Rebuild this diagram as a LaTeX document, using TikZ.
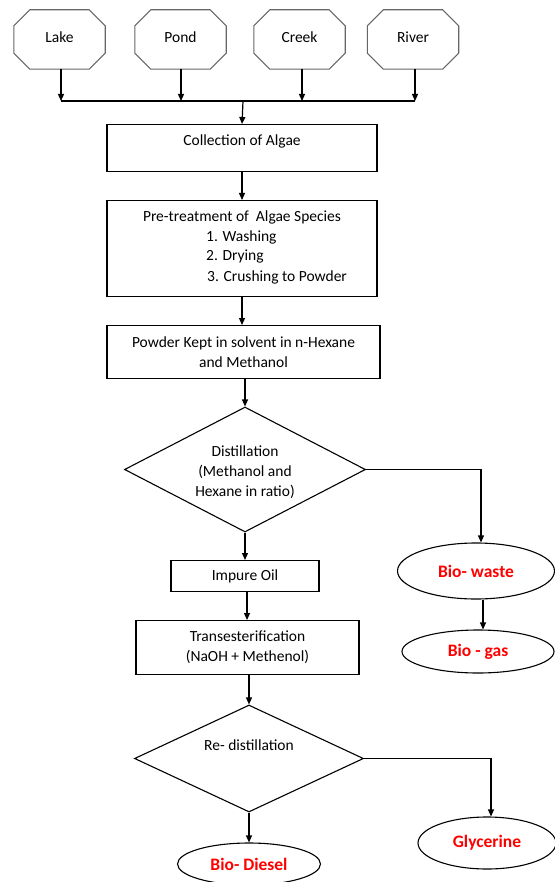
\documentclass[tikz,border=0pt]{standalone}
\usepackage{fontspec}
\setmainfont{Carlito}
\usetikzlibrary{shapes.geometric,arrows.meta,calc}
\definecolor{outred}{RGB}{255,0,0}
\tikzset{
  txt/.style={font=\fontsize{15.5}{20}\selectfont, inner sep=0pt, align=center},
  srcbox/.style={txt, minimum width=91pt, minimum height=59pt},
  octline/.style={draw=black!60, line width=1.1pt},
  procbox/.style={txt, draw, line width=1.2pt},
  dia/.style={diamond, draw, line width=1.1pt, inner sep=0pt},
  outell/.style={ellipse, draw, line width=1.1pt, inner sep=0pt, text=outred,
     font=\fontsize{17.5}{20}\selectfont\bfseries},
  arr/.style={line width=1.2pt, -{Triangle[length=7pt,width=6pt]}},
  ln/.style={line width=1.2pt}
}
\newcommand{\octo}[1]{%
  \draw[octline] ($(#1.north west)+(16,0)$) -- ($(#1.north east)+(-16,0)$)
   -- ($(#1.north east)+(0,16)$) -- ($(#1.south east)+(0,-16)$)
   -- ($(#1.south east)+(-16,0)$) -- ($(#1.south west)+(16,0)$)
   -- ($(#1.south west)+(0,-16)$) -- ($(#1.north west)+(0,16)$) -- cycle;}
\begin{document}
\begin{tikzpicture}[x=1pt,y=-1pt]
\useasboundingbox (0,0) rectangle (554,882);
% sources
\node[srcbox] (lake)  at (59.5,39.5) {\raisebox{4.5pt}{Lake}};
\node[srcbox] (pond)  at (180.5,39.5) {\raisebox{4.5pt}{Pond}};
\node[srcbox] (creek) at (299.5,39.5) {\raisebox{4.5pt}{Creek}};
\node[srcbox] (river) at (413,39.5) {\raisebox{4.5pt}{River}};
\octo{lake}\octo{pond}\octo{creek}\octo{river}
\coordinate (jl) at (61,101);
\coordinate (jp) at (181,101);
\coordinate (jc) at (302,101);
\coordinate (jr) at (415,101);
\coordinate (jm) at (243,101);
\draw[arr] (lake.south -| jl) -- (jl);
\draw[arr] (pond.south -| jp) -- (jp);
\draw[arr] (creek.south -| jc) -- (jc);
\draw[arr] (river.south -| jr) -- (jr);
\draw[ln] (jl) -- (jr);
% process boxes
\node[procbox, minimum width=270pt, minimum height=47pt, anchor=north] (coll) at (242,124) {};
\node[txt] (colltxt) at (242,141) {Collection of Algae};
\draw[arr] (jm) -- (coll.north);
\node[procbox, minimum width=270pt, minimum height=96pt, anchor=north] (pre) at (242,200) {};
\node[txt] (pretxt) at (242,217) {Pre-treatment of\ \ Algae Species};
\node[txt, anchor=west] (pre1) at (206,237) {1. Washing};
\node[txt, anchor=west] (pre2) at (206,257) {2. Drying};
\node[txt, anchor=west] (pre3) at (207,277) {3. Crushing to Powder};
\draw[arr] (coll.south) -- (pre.north);
\node[procbox, minimum width=273pt, minimum height=53pt, anchor=north] (pow) at (243.5,325) {Powder Kept in solvent in n-Hexane\\and Methanol};
\draw[arr] (pre.south) -- (pre.south |- pow.north);
% distillation
\node[dia, minimum width=241pt, minimum height=125pt] (dist) at (245,469.5) {};
\node[txt] (disttxt) at (245,472) {Distillation\\(Methanol and\\Hexane in ratio)};
\draw[arr] (pow.south -| dist.north) -- (dist.north);
% bio-waste branch
\node[outell, minimum width=157pt, minimum height=56pt] (waste) at (476,571) {Bio- waste};
\node[outell, minimum width=152pt, minimum height=43pt] (gas) at (478,651.5) {Bio - gas};
\coordinate (wturn) at (481,469.5);
\draw[arr] (dist.east) -- (wturn) -- (wturn |- waste.north);
\draw[arr] (waste.south -| 483,0) -- (gas.north -| 483,0);
% impure oil
\node[procbox, minimum width=148pt, minimum height=31pt, anchor=north] (imp) at (245,560) {Impure Oil};
\draw[arr] (dist.south) -- (dist.south |- imp.north);
\node[procbox, minimum width=223pt, minimum height=54pt, anchor=north] (trans) at (247.5,620) {Transesterification\\(NaOH + Methenol)};
\draw[arr] (imp.south -| 247,0) -- (trans.north -| 247,0);
% re-distillation
\node[dia, minimum width=229pt, minimum height=107pt] (redist) at (249,758.5) {};
\node[txt] (redisttxt) at (249,745) {Re- distillation};
\draw[arr] (trans.south -| redist.north) -- (redist.north);
\node[outell, minimum width=143pt, minimum height=42pt] (diesel) at (249,864) {Bio- Diesel};
\draw[arr] (redist.south) -- (diesel.north);
\node[outell, minimum width=138pt, minimum height=52pt] (gly) at (487,843) {Glycerine};
\coordinate (gturn) at (491,758.5);
\draw[arr] (redist.east) -- (gturn) -- (gturn |- gly.north);
\end{tikzpicture}
\end{document}
